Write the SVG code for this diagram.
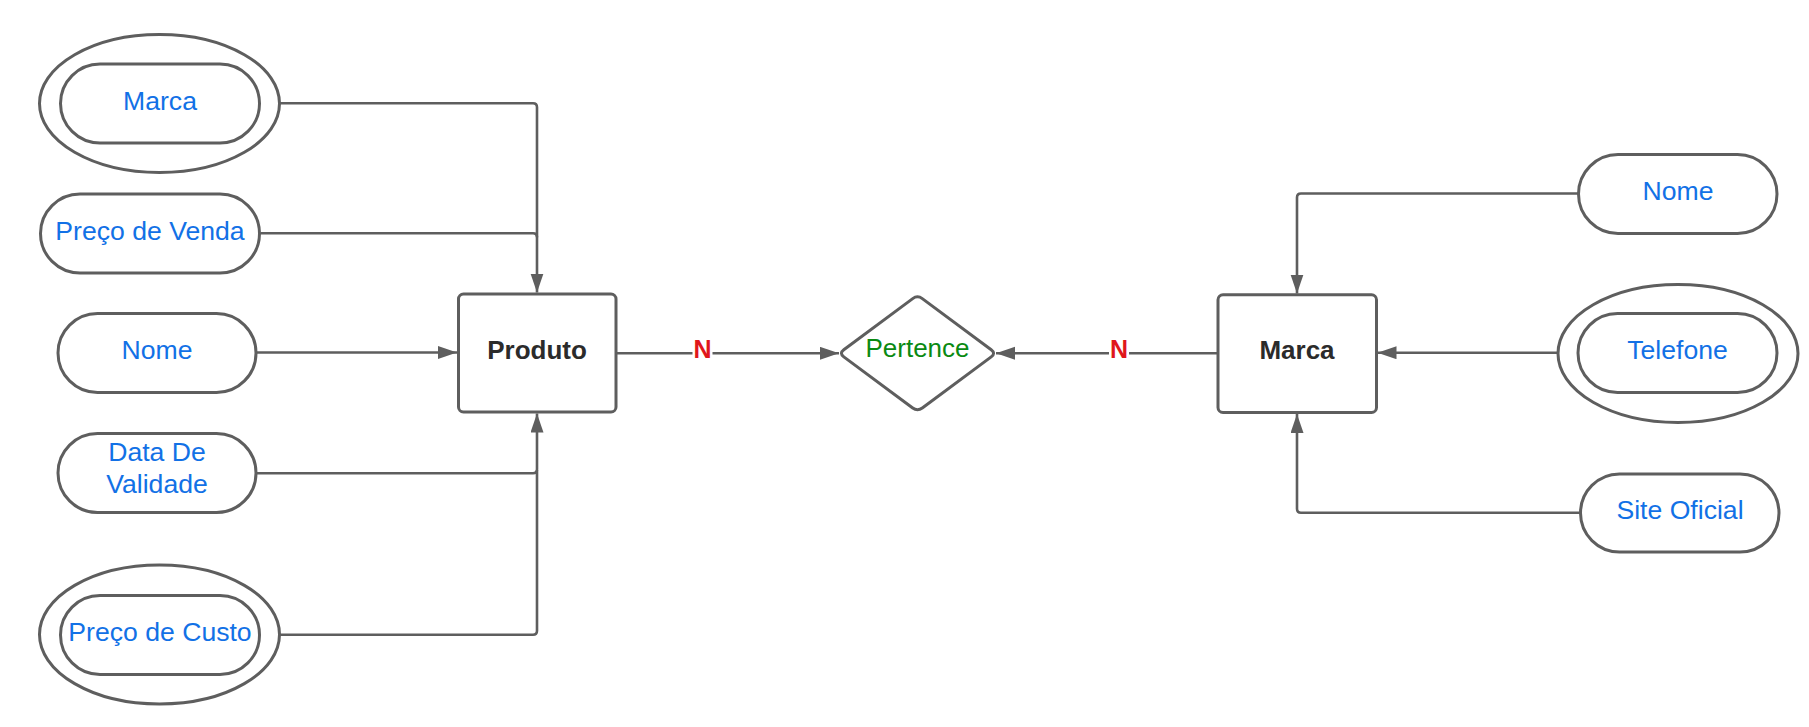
<svg xmlns="http://www.w3.org/2000/svg" width="1809" height="727" viewBox="0 0 1809 727">
  <defs>
    <style>
      .shape { fill: #ffffff; stroke: #5e5e5e; stroke-width: 3; }
      .conn { fill: none; stroke: #5e5e5e; stroke-width: 2.6; }
      .attr { font-family: "Liberation Sans", Arial, sans-serif; font-size: 26.6px; fill: #1271e6; text-anchor: middle; }
      .ent { font-family: "Liberation Sans", Arial, sans-serif; font-size: 26px; font-weight: bold; fill: #2b2b2b; text-anchor: middle; }
      .rel { font-family: "Liberation Sans", Arial, sans-serif; font-size: 26px; fill: #0a8a12; text-anchor: middle; }
      .card { font-family: "Liberation Sans", Arial, sans-serif; font-size: 25px; font-weight: bold; fill: #e0161b; text-anchor: middle; }
    </style>
    <marker id="arrow" markerUnits="userSpaceOnUse" markerWidth="20" markerHeight="14" refX="19" refY="6.5" orient="auto">
      <path d="M0,0 L19,6.5 L0,13 Z" fill="#5e5e5e"/>
    </marker>
  </defs>
  <rect width="1809" height="727" fill="#ffffff"/>

  <g id="connectors">
    <path class="conn" d="M260.5,103.3 H533 Q537,103.3 537,107.3 V292.5" marker-end="url(#arrow)"/>
    <path class="conn" d="M260.5,233.3 H533 Q537,233.3 537,237.3"/>
    <path class="conn" d="M256.5,352.5 H457" marker-end="url(#arrow)"/>
    <path class="conn" d="M256.5,473.3 H533 Q537,473.3 537,469.3 V413.5" marker-end="url(#arrow)"/>
    <path class="conn" d="M279.5,634.7 H533 Q537,634.7 537,630.7 V470"/>
    <path class="conn" d="M617,353.3 H839" marker-end="url(#arrow)"/>
    <path class="conn" d="M1217,353.3 H996" marker-end="url(#arrow)"/>
    <path class="conn" d="M1578,193.5 H1301 Q1297,193.5 1297,197.5 V293.5" marker-end="url(#arrow)"/>
    <path class="conn" d="M1558,352.7 H1377.5" marker-end="url(#arrow)"/>
    <path class="conn" d="M1580,512.7 H1301 Q1297,512.7 1297,508.7 V414" marker-end="url(#arrow)"/>
    <g id="label-n-left">
      <rect x="692.5" y="338" width="20" height="28" fill="#ffffff"/>
      <text class="card" x="702.5" y="357.5">N</text>
    </g>
    <g id="label-n-right">
      <rect x="1109" y="338" width="20" height="28" fill="#ffffff"/>
      <text class="card" x="1119" y="357.5">N</text>
    </g>
  </g>

  <g id="attr-marca">
    <ellipse class="shape" cx="159.5" cy="103.5" rx="120" ry="69"/>
    <rect class="shape" x="60.5" y="64" width="199" height="79" rx="39.5"/>
    <text class="attr" x="160" y="109.5">Marca</text>
  </g>
  <g id="attr-preco-venda">
    <rect class="shape" x="40.5" y="194" width="219" height="79" rx="39.5"/>
    <text class="attr" x="150" y="239.5">Preço de Venda</text>
  </g>
  <g id="attr-nome-produto">
    <rect class="shape" x="58" y="313.5" width="198" height="79" rx="39.5"/>
    <text class="attr" x="157" y="359">Nome</text>
  </g>
  <g id="attr-data-validade">
    <rect class="shape" x="58" y="433.5" width="198" height="79" rx="39.5"/>
    <text class="attr" x="157" y="460.5">Data De</text>
    <text class="attr" x="157" y="492.5">Validade</text>
  </g>
  <g id="attr-preco-custo">
    <ellipse class="shape" cx="159.5" cy="634.5" rx="120" ry="69.5"/>
    <rect class="shape" x="60.5" y="595.5" width="199" height="79" rx="39.5"/>
    <text class="attr" x="160" y="640.5">Preço de Custo</text>
  </g>

  <g id="entity-produto">
    <rect class="shape" x="458.5" y="294" width="157.5" height="118" rx="5"/>
    <text class="ent" x="537" y="359">Produto</text>
  </g>

  <g id="rel-pertence">
    <path class="shape" d="M843.8,349.7 L912.7,298.6 Q917.5,295 922.3,298.6 L991.2,349.7 Q996,353.3 991.2,356.9 L922.3,408 Q917.5,411.6 912.7,408 L843.8,356.9 Q839,353.3 843.8,349.7 Z"/>
    <text class="rel" x="917.5" y="357">Pertence</text>
  </g>

  <g id="entity-marca">
    <rect class="shape" x="1218" y="294.8" width="158.5" height="117.7" rx="5"/>
    <text class="ent" x="1297" y="359">Marca</text>
  </g>

  <g id="attr-nome-marca">
    <rect class="shape" x="1578.5" y="154.5" width="198.5" height="79" rx="39.5"/>
    <text class="attr" x="1678" y="200">Nome</text>
  </g>
  <g id="attr-telefone">
    <ellipse class="shape" cx="1678" cy="353.5" rx="120" ry="69"/>
    <rect class="shape" x="1578" y="313.5" width="199" height="79" rx="39.5"/>
    <text class="attr" x="1677.5" y="359">Telefone</text>
  </g>
  <g id="attr-site-oficial">
    <rect class="shape" x="1580.5" y="474" width="198.5" height="78" rx="39"/>
    <text class="attr" x="1680" y="519">Site Oficial</text>
  </g>
</svg>
